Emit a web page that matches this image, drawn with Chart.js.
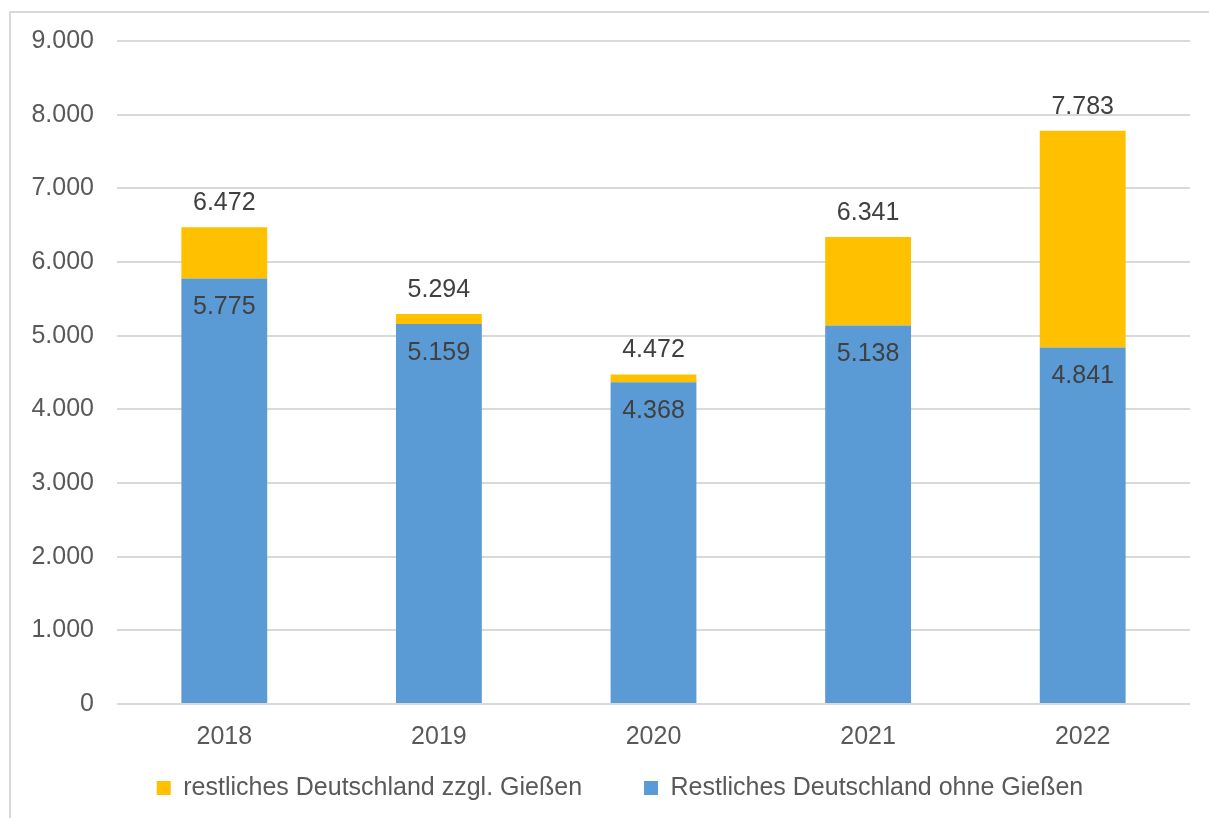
<!DOCTYPE html>
<html>
<head>
<meta charset="utf-8">
<script src="https://cdn.jsdelivr.net/npm/chart.js@4"></script>
<style>
  html, body { margin: 0; padding: 0; background: #fff; overflow: hidden; }
  #frame { position: absolute; left: 9px; top: 11px; width: 1300px; height: 900px; border: 2px solid #d9d9d9; box-sizing: border-box; }
  #chart { position: absolute; left: 0; top: 0; }
</style>
</head>
<body>
<div id="frame"></div>
<canvas id="chart" width="1209" height="818"></canvas>
<script>
// Jahre und Werte
const years = ['2018', '2019', '2020', '2021', '2022'];
const ohneGiessen = [5775, 5159, 4368, 5138, 4841];
const gesamt = [6472, 5294, 4472, 6341, 7783];
const zzglGiessen = [697, 135, 104, 1203, 2942]; // gesamt - ohneGiessen

const FONT = 'Liberation Sans';
const SIZE = 25;
const LEGEND_GAP = 62;

function fmt(n) {
    return String(n).replace(/\B(?=(\d{3})+(?!\d))/g, '.');
}

// Werte-Beschriftungen + Legende verschieben
const labelPlugin = {
    id: 'valueLabels',
    afterLayout(chart) {
        const lg = chart.legend;
        lg.left += 20;
        lg.right += 20;
        // grosser Abstand zwischen den Eintraegen -> Legendenbox passend hochziehen
        lg.top = 788 - LEGEND_GAP - SIZE / 2;
        lg.bottom = chart.height;
        lg.height = lg.bottom - lg.top;
    },
    afterDatasetsDraw(chart) {
        const c = chart.ctx;
        const blue = chart.getDatasetMeta(0);
        const yellow = chart.getDatasetMeta(1);
        c.save();
        c.font = SIZE + 'px "' + FONT + '"';
        c.fillStyle = '#404040';
        c.textAlign = 'center';
        c.textBaseline = 'middle';
        blue.data.forEach((bar, i) => {
            c.fillText(fmt(ohneGiessen[i]), bar.x, bar.y + 29);
        });
        yellow.data.forEach((bar, i) => {
            c.fillText(fmt(gesamt[i]), bar.x, bar.y - 24);
        });
        c.restore();
    }
};

const ctx = document.getElementById('chart').getContext('2d');
const chart = new Chart(ctx, {
    type: 'bar',
    data: {
        labels: years,
        datasets: [{
            label: 'Restliches Deutschland ohne Gießen',
            data: ohneGiessen,
            backgroundColor: '#5b9bd5',
            categoryPercentage: 0.8,
            barPercentage: 0.5
        }, {
            label: 'restliches Deutschland zzgl. Gießen',
            data: zzglGiessen,
            backgroundColor: '#ffc000',
            categoryPercentage: 0.8,
            barPercentage: 0.5
        }]
    },
    options: {
        responsive: false,
        animation: false,
        layout: {
            padding: { left: 10, right: 19, top: 41, bottom: 6 }
        },
        scales: {
            x: {
                stacked: true,
                grid: { display: false },
                border: { display: false },
                ticks: {
                    color: '#595959',
                    font: { family: FONT, size: SIZE },
                    padding: 10
                },
                afterFit(axis) { axis.height = 63; }
            },
            y: {
                stacked: true,
                min: 0,
                max: 9000,
                grid: { color: '#d9d9d9', lineWidth: 2, drawTicks: false },
                border: { display: false },
                ticks: {
                    stepSize: 1000,
                    color: '#595959',
                    font: { family: FONT, size: SIZE },
                    padding: 23,
                    callback: v => fmt(v)
                },
                afterFit(axis) { axis.width = 107; }
            }
        },
        plugins: {
            legend: {
                position: 'bottom',
                reverse: true,
                maxHeight: 45,
                labels: {
                    color: '#595959',
                    font: { family: FONT, size: SIZE },
                    boxWidth: 14,
                    boxHeight: 14,
                    padding: LEGEND_GAP
                }
            },
            tooltip: { enabled: false }
        }
    },
    plugins: [labelPlugin]
});
</script>
</body>
</html>
